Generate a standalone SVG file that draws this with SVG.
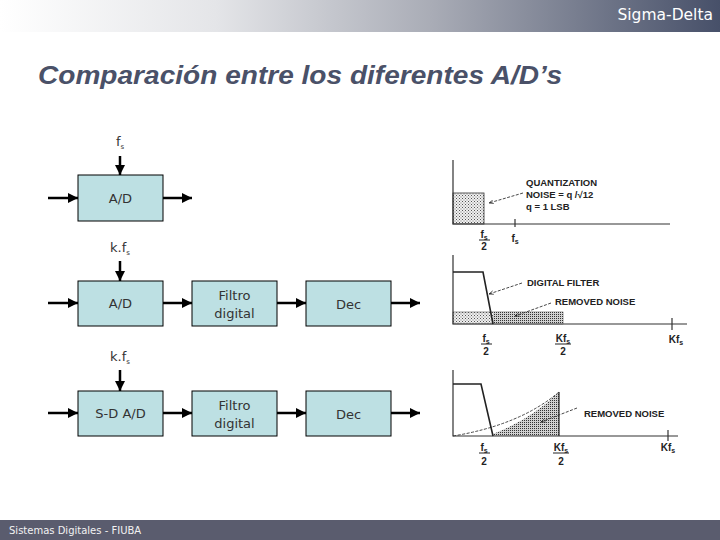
<svg xmlns="http://www.w3.org/2000/svg" width="720" height="540" viewBox="0 0 720 540">
<defs>
<linearGradient id="hdr" x1="0" y1="0" x2="1" y2="0">
<stop offset="0" stop-color="#ffffff"/>
<stop offset="0.3" stop-color="#e4e5e8"/>
<stop offset="0.6" stop-color="#a9acb6"/>
<stop offset="1" stop-color="#475069"/>
</linearGradient>
<pattern id="dots" width="3" height="3" patternUnits="userSpaceOnUse">
<rect width="3" height="3" fill="#f0f0f0"/>
<rect x="0" y="0" width="1" height="1" fill="#555"/>
<rect x="1.5" y="1.5" width="1" height="1" fill="#777"/>
</pattern>
<pattern id="dots2" width="2" height="2" patternUnits="userSpaceOnUse">
<rect width="2" height="2" fill="#d0d0d0"/>
<rect x="0" y="0" width="1" height="1" fill="#333"/>
</pattern>
<marker id="ah" viewBox="0 0 10 10" refX="10" refY="5" markerWidth="4" markerHeight="4" orient="auto">
<path d="M0,0 L10,5 L0,10 z" fill="#000"/>
</marker>
<marker id="sa" viewBox="0 0 10 10" refX="10" refY="5" markerWidth="5" markerHeight="5" orient="auto">
<path d="M0,1 L10,5 L0,9" fill="none" stroke="#222" stroke-width="1.5"/>
</marker>
</defs>
<style>
.blk{fill:#bde0e3;stroke:#000;stroke-width:1}
.bt{font-family:"DejaVu Sans",Verdana,sans-serif;font-size:13px;fill:#333;text-anchor:middle}
.wire{stroke:#000;stroke-width:2.5;fill:none;marker-end:url(#ah)}
.ax{stroke:#333;stroke-width:1.2;fill:none}
.ct{font-family:"Liberation Sans",Arial,sans-serif;font-size:9.5px;font-weight:bold;fill:#222}
.cl{font-family:"Liberation Sans",Arial,sans-serif;font-size:10px;font-weight:bold;fill:#222;text-anchor:middle}
.sub{font-size:7px}
.lead{stroke:#333;stroke-width:0.9;stroke-dasharray:3,1.5;fill:none;marker-end:url(#sa)}
</style>
<rect x="0" y="0" width="720" height="32" fill="url(#hdr)"/>
<text x="713" y="20" font-family="DejaVu Sans,Verdana,sans-serif" font-size="15.5" fill="#fff" text-anchor="end">Sigma-Delta</text>
<text x="38" y="84" font-family="Liberation Sans,Arial,sans-serif" font-size="25" font-weight="bold" font-style="italic" fill="#4a5168" textLength="524" lengthAdjust="spacingAndGlyphs">Comparación entre los diferentes A/D’s</text>
<rect x="0" y="520" width="720" height="20" fill="#5a5c6e"/>
<text x="9" y="534" font-family="DejaVu Sans,Verdana,sans-serif" font-size="10" fill="#f2f2f2">Sistemas Digitales - FIUBA</text>

<g id="connectors">
<path class="wire" d="M120,156 V175"/>
<path class="wire" d="M48,198 H78"/>
<path class="wire" d="M163,198 H192"/>
<path class="wire" d="M120,261 V281"/>
<path class="wire" d="M48,303 H78"/>
<path class="wire" d="M163,303 H192"/>
<path class="wire" d="M277,303 H306"/>
<path class="wire" d="M391,303 H420"/>
<path class="wire" d="M120,370 V391"/>
<path class="wire" d="M48,413 H78"/>
<path class="wire" d="M163,413 H192"/>
<path class="wire" d="M277,413 H306"/>
<path class="wire" d="M391,413 H420"/>
</g>

<g id="lbl1"><text class="bt" x="120" y="146">f<tspan class="sub" dy="3">s</tspan></text></g>
<g id="ad1"><rect class="blk" x="78" y="175" width="85" height="46"/><text class="bt" x="120.5" y="203">A/D</text></g>

<g id="lbl2"><text class="bt" x="120" y="252">k.f<tspan class="sub" dy="3">s</tspan></text></g>
<g id="ad2"><rect class="blk" x="78" y="281" width="85" height="45"/><text class="bt" x="120.5" y="308">A/D</text></g>
<g id="filt2"><rect class="blk" x="192" y="281" width="85" height="45"/><text class="bt" x="234.5" y="300">Filtro</text><text class="bt" x="234.5" y="318">digital</text></g>
<g id="dec2"><rect class="blk" x="306" y="281" width="85" height="45"/><text class="bt" x="348.5" y="309">Dec</text></g>

<g id="lbl3"><text class="bt" x="120" y="361">k.f<tspan class="sub" dy="3">s</tspan></text></g>
<g id="sdad3"><rect class="blk" x="78" y="391" width="85" height="45"/><text class="bt" x="120.5" y="418">S-D A/D</text></g>
<g id="filt3"><rect class="blk" x="192" y="391" width="85" height="45"/><text class="bt" x="234.5" y="410">Filtro</text><text class="bt" x="234.5" y="428">digital</text></g>
<g id="dec3"><rect class="blk" x="306" y="391" width="85" height="45"/><text class="bt" x="348.5" y="419">Dec</text></g>

<g id="chart1">
<rect x="453" y="193" width="31" height="31" fill="url(#dots)" stroke="#333" stroke-width="0.8"/>
<path class="ax" d="M453,160 V224 H670"/>
<path class="ax" d="M515,219 V227"/>
<text class="ct" x="526" y="186">QUANTIZATION</text>
<text class="ct" x="526" y="198">NOISE = q /√12</text>
<text class="ct" x="526" y="210">q = 1 LSB</text>
<path class="lead" d="M523,193 L489,203"/>
<text class="cl" x="484" y="238">f<tspan class="sub" dy="2">s</tspan></text>
<path d="M479,240 H490" stroke="#222" stroke-width="1"/>
<text class="cl" x="484" y="250">2</text>
<text class="cl" x="515" y="242">f<tspan class="sub" dy="2">s</tspan></text>
</g>

<g id="chart2">
<rect x="453" y="312" width="110" height="12" fill="url(#dots)" stroke="#555" stroke-width="0.6"/>
<rect x="493" y="312" width="70" height="12" fill="url(#dots2)"/>
<path class="ax" d="M453,255 V324 H687"/>
<path d="M453,272 H483 L493,324" stroke="#222" stroke-width="1.6" fill="none"/>
<path class="ax" d="M672,318 V330"/>
<text class="ct" x="527" y="286">DIGITAL FILTER</text>
<text class="ct" x="555" y="305">REMOVED NOISE</text>
<path class="lead" d="M522,283 L489,294"/>
<path class="lead" d="M551,303 L515,316"/>
<text class="cl" x="486" y="342">f<tspan class="sub" dy="2">s</tspan></text>
<path d="M481,344 H492" stroke="#222" stroke-width="1"/>
<text class="cl" x="486" y="355">2</text>
<text class="cl" x="563" y="342">Kf<tspan class="sub" dy="2">s</tspan></text>
<path d="M555,344 H571" stroke="#222" stroke-width="1"/>
<text class="cl" x="563" y="355">2</text>
<text class="cl" x="676" y="343">Kf<tspan class="sub" dy="2">s</tspan></text>
</g>

<g id="chart3">
<path d="M493,434 Q530,420 559,392 V436 H493 Z" fill="url(#dots2)"/>
<path d="M453,436 Q520,425 559,392" stroke="#333" stroke-width="0.9" stroke-dasharray="3,1.5" fill="none"/>
<path d="M559,392 V436" stroke="#222" stroke-width="1.2"/>
<path class="ax" d="M453,370 V436 H678"/>
<path d="M453,384 H481 L493,436" stroke="#222" stroke-width="1.6" fill="none"/>
<path class="ax" d="M668,430 V441"/>
<text class="ct" x="584" y="417">REMOVED NOISE</text>
<path class="lead" d="M577,408 L541,422"/>
<text class="cl" x="484" y="451">f<tspan class="sub" dy="2">s</tspan></text>
<path d="M479,453 H490" stroke="#222" stroke-width="1"/>
<text class="cl" x="484" y="465">2</text>
<text class="cl" x="561" y="451">Kf<tspan class="sub" dy="2">s</tspan></text>
<path d="M553,453 H569" stroke="#222" stroke-width="1"/>
<text class="cl" x="561" y="465">2</text>
<text class="cl" x="668" y="451">Kf<tspan class="sub" dy="2">s</tspan></text>
</g>
</svg>
